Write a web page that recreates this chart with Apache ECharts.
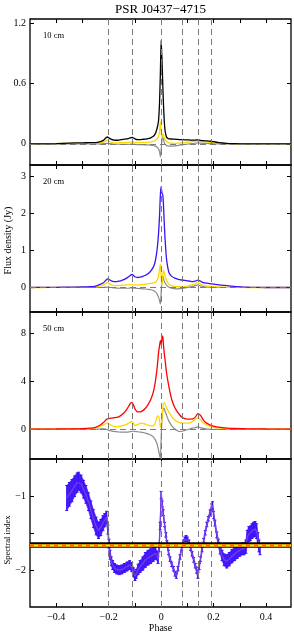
<!DOCTYPE html>
<html><head><meta charset="utf-8">
<script src="https://cdn.jsdelivr.net/npm/echarts@6/dist/echarts.min.js"></script>
<style>html,body{margin:0;padding:0;background:#fff}#c{width:294px;height:636px}</style>
</head><body><div id="c"></div>
<script>
// ---------- DATA ----------
const phase = [-0.50,-0.45,-0.40,-0.35,-0.30,-0.27,-0.25,-0.235,-0.22,-0.21,
  -0.205,-0.20,-0.19,-0.18,-0.17,-0.16,-0.15,-0.14,-0.13,-0.12,
  -0.115,-0.11,-0.105,-0.10,-0.09,-0.08,-0.07,-0.06,-0.05,-0.04,
  -0.03,-0.025,-0.02,-0.015,-0.01,-0.006,-0.003,0,0.003,0.006,
  0.009,0.012,0.015,0.02,0.025,0.03,0.04,0.05,0.06,0.07,
  0.08,0.09,0.10,0.11,0.12,0.13,0.14,0.15,0.16,0.17,
  0.18,0.19,0.20,0.22,0.25,0.28,0.32,0.36,0.40,0.45,0.495];

// 10 cm
const total10 = [0,0,0.003,0.008,0.01,0.012,0.013,0.02,0.035,0.06,
  0.068,0.06,0.045,0.038,0.036,0.038,0.042,0.046,0.05,0.057,
  0.062,0.063,0.058,0.05,0.042,0.042,0.045,0.048,0.052,0.06,
  0.075,0.09,0.115,0.16,0.23,0.42,0.7,1.03,0.85,0.6,
  0.38,0.22,0.13,0.07,0.055,0.05,0.048,0.047,0.045,0.043,
  0.042,0.04,0.04,0.038,0.037,0.038,0.04,0.035,0.032,0.03,
  0.028,0.026,0.022,0.012,0.005,0.002,0,0,0,0,0];
const linear10 = [0,0,0.002,0.005,0.006,0.007,0.008,0.01,0.018,0.03,
  0.038,0.028,0.015,0.01,0.01,0.011,0.012,0.013,0.014,0.016,
  0.018,0.018,0.016,0.014,0.013,0.013,0.014,0.015,0.017,0.02,
  0.025,0.03,0.04,0.05,0.07,0.13,0.22,0.12,0.06,0.1,
  0.09,0.06,0.04,0.025,0.015,0.01,0.006,0.005,0.006,0.008,
  0.01,0.013,0.016,0.02,0.023,0.026,0.03,0.026,0.022,0.02,
  0.018,0.016,0.013,0.007,0.003,0.001,0,0,0,0,0];
const circular10 = [0,0,0,0,0,0,0,0,0.002,0.005,
  0.005,0.003,0,-0.003,-0.004,-0.004,-0.004,-0.005,-0.005,-0.004,
  -0.003,-0.002,-0.004,-0.006,-0.007,-0.008,-0.009,-0.01,-0.011,-0.013,
  -0.016,-0.02,-0.025,-0.035,-0.05,-0.08,-0.13,-0.06,0.04,0.07,
  0.04,0.01,-0.005,-0.015,-0.02,-0.022,-0.022,-0.02,-0.017,-0.013,
  -0.01,-0.006,-0.003,0,0.003,0.006,0.01,0.007,0.005,0.004,
  0.003,0.002,0.001,0,0,0,0,0,0,0,0];

// 20 cm
const total20 = [0,0.002,0.005,0.01,0.015,0.02,0.04,0.08,0.13,0.2,
  0.23,0.22,0.18,0.16,0.16,0.17,0.19,0.22,0.26,0.31,
  0.34,0.35,0.32,0.29,0.27,0.28,0.3,0.33,0.37,0.44,
  0.55,0.64,0.8,1.05,1.45,1.95,2.5,2.72,2.55,2.5,
  2.2,1.7,1.3,0.8,0.55,0.4,0.3,0.26,0.23,0.21,
  0.2,0.19,0.18,0.17,0.16,0.17,0.2,0.17,0.13,0.12,
  0.11,0.1,0.09,0.07,0.05,0.03,0.01,0.005,0,0,0];
const linear20 = [0,0,0.002,0.005,0.008,0.01,0.02,0.04,0.07,0.12,
  0.14,0.11,0.07,0.05,0.05,0.055,0.06,0.065,0.07,0.075,
  0.08,0.08,0.07,0.065,0.07,0.075,0.08,0.09,0.1,0.11,
  0.12,0.13,0.15,0.2,0.3,0.5,0.63,0.3,0.06,0.3,
  0.47,0.4,0.3,0.2,0.13,0.09,0.05,0.03,0.02,0.02,
  0.025,0.03,0.04,0.06,0.08,0.1,0.13,0.09,0.06,0.045,
  0.035,0.03,0.025,0.015,0.007,0.003,0,0,0,0,0];
const circular20 = [0,0,0,0,0,0,0,0,0.005,0.01,
  0.01,0.005,0,-0.01,-0.015,-0.02,-0.02,-0.02,-0.02,-0.015,
  -0.01,-0.01,-0.015,-0.02,-0.025,-0.03,-0.035,-0.04,-0.05,-0.06,
  -0.08,-0.1,-0.13,-0.18,-0.26,-0.36,-0.45,-0.15,0.2,0.32,
  0.25,0.17,0.12,0.07,0.03,0.01,-0.015,-0.03,-0.035,-0.03,
  -0.02,-0.01,0,0.015,0.03,0.05,0.07,0.04,0.025,0.015,
  0.01,0.005,0.002,0,0,0,0,0,0,0,0];

// 50 cm
const total50 = [0,0.005,0.01,0.02,0.04,0.08,0.15,0.3,0.55,0.78,
  0.85,0.88,0.92,0.95,0.98,1.05,1.2,1.4,1.7,2.05,
  2.2,2.22,2.0,1.7,1.45,1.45,1.55,1.75,2.05,2.45,
  3.1,3.6,4.3,5.2,6.4,7.0,7.4,7.1,7.6,7.8,
  7.0,6.3,5.8,4.8,4.1,3.5,2.5,1.9,1.5,1.2,
  0.98,0.88,0.84,0.83,0.85,1.0,1.3,1.15,0.8,0.55,
  0.42,0.32,0.25,0.16,0.09,0.05,0.03,0.02,0.01,0.005,0];
const linear50 = [0,0,0.005,0.01,0.02,0.05,0.1,0.2,0.35,0.47,
  0.5,0.45,0.32,0.22,0.2,0.23,0.28,0.34,0.42,0.55,
  0.62,0.62,0.45,0.3,0.38,0.48,0.5,0.42,0.33,0.28,
  0.3,0.4,0.7,1.05,1.1,0.7,0.2,0.15,0.9,1.7,
  2.15,2.2,2.1,1.8,1.6,1.4,1.05,0.8,0.65,0.55,
  0.5,0.5,0.5,0.55,0.65,0.8,0.97,0.8,0.55,0.4,
  0.28,0.2,0.15,0.08,0.04,0.02,0.01,0,0,0,0];
const circular50 = [0,0,0,0,0,0,0,0.01,0.02,0,
  -0.05,-0.1,-0.15,-0.2,-0.22,-0.24,-0.25,-0.25,-0.25,-0.22,
  -0.2,-0.18,-0.18,-0.2,-0.22,-0.25,-0.28,-0.33,-0.4,-0.5,
  -0.65,-0.8,-1.0,-1.3,-1.75,-2.2,-2.45,-0.8,0.8,1.5,
  1.75,1.7,1.5,1.2,0.9,0.65,0.3,0.05,-0.12,-0.2,
  -0.18,-0.1,-0.05,0.02,0.08,0.13,0.18,0.12,0.06,0.02,
  0,-0.02,-0.03,-0.02,-0.01,0,0,0,0,0,0];

// spectral index
const specPhase = [-0.360,-0.350,-0.340,-0.330,-0.320,-0.315,-0.305,-0.296,-0.287,-0.277,
  -0.268,-0.258,-0.248,-0.239,-0.230,-0.222,-0.215,-0.208,-0.203,-0.199,
  -0.195,-0.190,-0.185,-0.178,-0.170,-0.160,-0.150,-0.140,-0.130,-0.120,
  -0.112,-0.105,-0.100,-0.095,-0.088,-0.080,-0.070,-0.060,-0.050,-0.040,
  -0.030,-0.022,-0.016,-0.012,-0.008,-0.004,0.000,0.004,0.008,0.013,
  0.018,0.022,0.028,0.034,0.040,0.047,0.053,0.058,0.064,0.072,
  0.078,0.085,0.090,0.095,0.100,0.106,0.112,0.118,0.124,0.130,
  0.135,0.140,0.145,0.150,0.156,0.162,0.168,0.174,0.180,0.187,
  0.192,0.196,0.200,0.205,0.212,0.218,0.225,0.232,0.240,0.250,
  0.260,0.270,0.280,0.290,0.300,0.308,0.316,0.323,0.328,0.334,
  0.340,0.346,0.352,0.358,0.364,0.369,0.373,0.377];
const specIndex = [-1.02,-0.97,-0.92,-0.86,-0.81,-0.79,-0.83,-0.90,-0.97,-1.07,
  -1.18,-1.30,-1.40,-1.46,-1.42,-1.36,-1.32,-1.28,-1.45,-1.64,
  -1.79,-1.88,-1.93,-1.97,-1.99,-2.00,-1.99,-1.97,-1.95,-1.93,
  -1.96,-2.03,-2.08,-2.05,-1.99,-1.95,-1.91,-1.86,-1.83,-1.81,
  -1.79,-1.77,-1.80,-1.86,-1.70,-1.40,-0.98,-1.10,-1.22,-1.38,
  -1.52,-1.63,-1.76,-1.85,-1.92,-1.98,-2.05,-2.08,-1.98,-1.82,
  -1.70,-1.62,-1.58,-1.56,-1.58,-1.62,-1.70,-1.78,-1.86,-1.94,
  -2.00,-2.07,-1.95,-1.85,-1.72,-1.60,-1.49,-1.38,-1.30,-1.22,
  -1.15,-1.12,-1.25,-1.36,-1.52,-1.63,-1.72,-1.80,-1.86,-1.88,
  -1.85,-1.81,-1.78,-1.75,-1.73,-1.71,-1.71,-1.68,-1.56,-1.51,
  -1.50,-1.47,-1.45,-1.44,-1.47,-1.58,-1.67,-1.72];
const specErr = [0.17,0.16,0.15,0.14,0.13,0.12,0.12,0.12,0.12,0.12,
  0.12,0.12,0.12,0.11,0.11,0.10,0.09,0.08,0.06,0.06,
  0.06,0.06,0.06,0.06,0.06,0.06,0.06,0.06,0.06,0.06,
  0.06,0.06,0.06,0.06,0.07,0.08,0.09,0.10,0.10,0.10,
  0.09,0.08,0.06,0.05,0.05,0.05,0.05,0.04,0.04,0.03,
  0.03,0.03,0.03,0.03,0.03,0.03,0.03,0.03,0.03,0.03,
  0.03,0.03,0.03,0.03,0.03,0.03,0.03,0.03,0.03,0.03,
  0.04,0.04,0.04,0.03,0.03,0.03,0.03,0.03,0.03,0.04,
  0.05,0.05,0.05,0.04,0.04,0.05,0.06,0.07,0.08,0.09,
  0.09,0.09,0.09,0.09,0.08,0.08,0.08,0.09,0.10,0.10,
  0.10,0.10,0.10,0.10,0.10,0.09,0.08,0.07];
const meanIndex = -1.66;

const componentPhases = [-0.205,-0.11,0,0.082,0.141,0.193];
const panelLabels = ['10 cm','20 cm','50 cm'];
const titleText = 'PSR J0437\u22124715';
const fluxLabel = 'Flux density (Jy)';
const indexLabel = 'Spectral index';
const xTicks = [-0.4,-0.3,-0.2,-0.1,0,0.1,0.2,0.3,0.4];
const xLabels = [-0.4,-0.2,0,0.2,0.4];
const yTicks = [[0,0.6,1.2],[0,1,2,3],[0,4,8],[-2,-1.5,-1]];
const yLabels = [[0,0.6,1.2],[0,1,2,3],[0,4,8],[-2,-1]];
const yRanges = [[-0.21,1.24],[-0.66,3.3],[-2.5,9.8],[-2.5,-0.49]];

// ---------- LAYOUT ----------
const FONT = '"Liberation Serif","DejaVu Serif",serif';
const tops = [19,165,312,459];
const heights = [146,147,147,148];
const GL = 30, GW = 261;
const fmt = v => (v < 0 ? '\u2212' + String(Math.abs(v)) : String(v));

const grids = tops.map((t,i) => ({left:GL, width:GW, top:t, height:heights[i], show:true,
  borderColor:'#000', borderWidth:1.3, backgroundColor:'transparent',
  containLabel:false, outerBoundsMode:'none'}));
const xAxes = [], yAxes = [];
const tickStyle = {color:'#000', width:1};
for (let i = 0; i < 4; i++) {
  xAxes.push({gridIndex:i, type:'value', min:-0.5, max:0.495, position:'bottom',
    axisLine:{show:false, onZero:false}, splitLine:{show:false},
    axisTick:{show:true, inside:true, length:4, customValues:xTicks, lineStyle:tickStyle},
    axisLabel:{show:i===3, customValues:xLabels, formatter:fmt, fontFamily:FONT, fontSize:10, color:'#000', margin:5},
    name: i===3 ? 'Phase' : '', nameLocation:'middle', nameGap:15,
    nameTextStyle:{fontFamily:FONT, fontSize:10, color:'#000'}});
  xAxes.push({gridIndex:i, type:'value', min:-0.5, max:0.495, position:'top',
    axisLine:{show:false, onZero:false}, splitLine:{show:false},
    axisTick:{show:true, inside:true, length:4, customValues:xTicks, lineStyle:tickStyle},
    axisLabel:{show:false}});
  yAxes.push({gridIndex:i, type:'value', min:yRanges[i][0], max:yRanges[i][1], position:'left',
    axisLine:{show:false, onZero:false}, splitLine:{show:false},
    axisTick:{show:true, inside:true, length:4, customValues:yTicks[i], lineStyle:tickStyle},
    axisLabel:{show:true, customValues:yLabels[i], formatter:fmt, fontFamily:FONT, fontSize:10, color:'#000', margin:4}});
  yAxes.push({gridIndex:i, type:'value', min:yRanges[i][0], max:yRanges[i][1], position:'right',
    axisLine:{show:false, onZero:false}, splitLine:{show:false},
    axisTick:{show:true, inside:true, length:4, customValues:yTicks[i], lineStyle:tickStyle},
    axisLabel:{show:false}});
}

const dashStyle = {color:'#7a7a7a', width:1, type:[6,4]};
function guideLines(withZero) {
  const d = componentPhases.map(p => ({xAxis:p}));
  if (withZero) d.push({yAxis:0});
  return {silent:true, symbol:'none', label:{show:false}, lineStyle:dashStyle, data:d, animation:false};
}
const zip = (xs, ys) => xs.map((x,k) => [x, ys[k]]);
const panels = [
  {total:total10, lin:linear10, circ:circular10, color:'#000000'},
  {total:total20, lin:linear20, circ:circular20, color:'#3a12f0'},
  {total:total50, lin:linear50, circ:circular50, color:'#ff0000'}
];
const series = [];
panels.forEach((p,i) => {
  const ax = {xAxisIndex:2*i, yAxisIndex:2*i};
  series.push(Object.assign({type:'line', data:[], z:1, markLine:guideLines(true)}, ax));
  series.push(Object.assign({type:'line', data:zip(phase,p.circ), showSymbol:false, smooth:0.2, z:2,
    lineStyle:{color:'#8a8a8a', width:1.2}}, ax));
  series.push(Object.assign({type:'line', data:zip(phase,p.lin), showSymbol:false, smooth:0.2, z:3,
    lineStyle:{color:'#ffd800', width:1.3}}, ax));
  series.push(Object.assign({type:'line', data:zip(phase,p.total), showSymbol:false, smooth:0.2, z:4,
    lineStyle:{color:p.color, width:1.3}}, ax));
});
const ax4 = {xAxisIndex:6, yAxisIndex:6};
series.push(Object.assign({type:'line', data:[], z:1, markLine:guideLines(false)}, ax4));
series.push(Object.assign({type:'custom', z:2, clip:true,
  data: specPhase.slice(0,-1).map((p,k) => [p, specIndex[k], specErr[k], specPhase[k+1], specIndex[k+1], specErr[k+1]]),
  encode:{x:[0,3], y:[1,4]},
  renderItem:(params, api) => {
    const a = api.coord([api.value(0), api.value(1)-api.value(2)]);
    const b = api.coord([api.value(0), api.value(1)+api.value(2)]);
    const c = api.coord([api.value(3), api.value(4)+api.value(5)]);
    const d = api.coord([api.value(3), api.value(4)-api.value(5)]);
    return {type:'polygon', shape:{points:[a,b,c,d]}, style:{fill:'#4a20f6', stroke:'#4a20f6', lineWidth:0.6}};
  }}, ax4));
series.push(Object.assign({type:'custom', z:3,
  data: specPhase.map((p,k) => [p, specIndex[k], specErr[k]]),
  encode:{x:0, y:1},
  renderItem:(params, api) => {
    const lo = api.coord([api.value(0), api.value(1)-api.value(2)]);
    const hi = api.coord([api.value(0), api.value(1)+api.value(2)]);
    const st = {stroke:'#3810ff', lineWidth:1};
    return {type:'group', children:[
      {type:'line', shape:{x1:lo[0], y1:lo[1], x2:hi[0], y2:hi[1]}, style:st},
      {type:'line', shape:{x1:lo[0]-1.5, y1:lo[1], x2:lo[0]+1.5, y2:lo[1]}, style:st},
      {type:'line', shape:{x1:hi[0]-1.5, y1:hi[1], x2:hi[0]+1.5, y2:hi[1]}, style:st}
    ]};
  }}, ax4));
series.push(Object.assign({type:'line', data:zip(specPhase,specIndex), showSymbol:false, z:4,
  lineStyle:{color:'#7a40e0', width:1.2}}, ax4));
series.push(Object.assign({type:'line', data:[], z:6,
  markLine:{silent:true, symbol:'none', label:{show:false}, animation:false, data:[
    {yAxis:meanIndex, lineStyle:{color:'#000', width:5.5, type:'solid'}},
    {yAxis:meanIndex, lineStyle:{color:'#ffe600', width:2.6, type:'solid'}},
    {yAxis:meanIndex, lineStyle:{color:'#ff6a00', width:2.6, type:[4,4]}}
  ]}}, ax4));

const graphic = [
  {type:'text', x:160.5, y:10, style:{text:titleText, font:'13px ' + FONT, fill:'#000', textAlign:'center', textVerticalAlign:'middle'}},
  {type:'text', x:8, y:tops[1] + heights[1]/2 + 2, rotation:Math.PI/2,
    style:{text:fluxLabel, font:'10px ' + FONT, fill:'#000', textAlign:'center', textVerticalAlign:'middle'}},
  {type:'text', x:8, y:540, rotation:Math.PI/2,
    style:{text:indexLabel, font:'8.5px ' + FONT, fill:'#000', textAlign:'center', textVerticalAlign:'middle'}}
];
panelLabels.forEach((t,i) => {
  graphic.push({type:'text', x:43, y:tops[i] + 17, style:{text:t, font:'8.5px ' + FONT, fill:'#000', textAlign:'left', textVerticalAlign:'middle'}});
});

const chart = echarts.init(document.getElementById('c'), null, {renderer:'canvas'});
chart.setOption({animation:false, grid:grids, xAxis:xAxes, yAxis:yAxes, series:series, graphic:graphic});
</script></body></html>
